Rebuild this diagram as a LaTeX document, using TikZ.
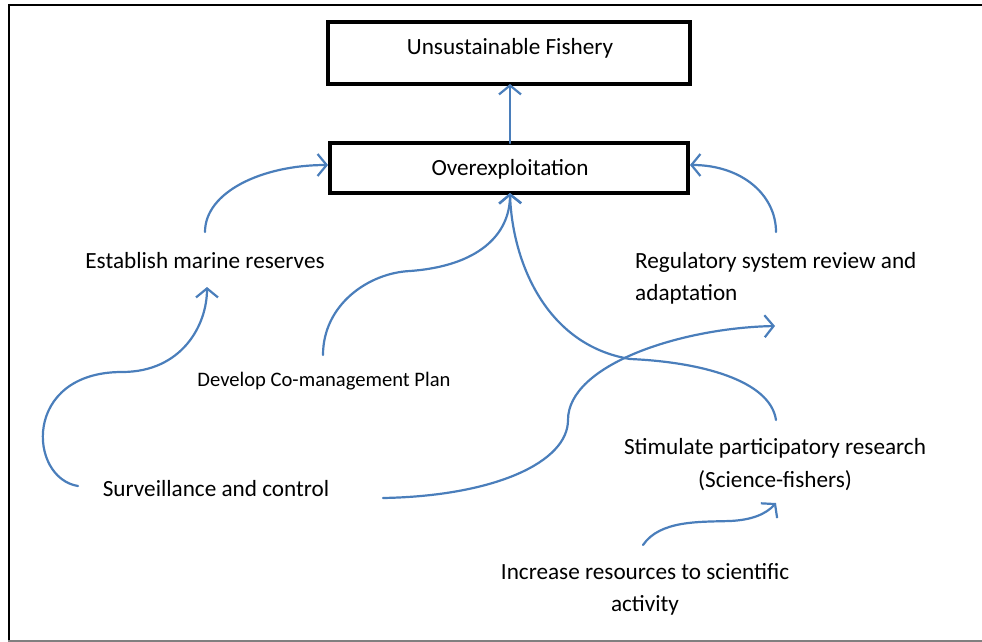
\documentclass[tikz,border=0pt]{standalone}
\usepackage{fontspec}
\setmainfont{Carlito}
\usetikzlibrary{arrows.meta}
\definecolor{flow}{RGB}{74,126,187}
\definecolor{framegray}{RGB}{128,128,128}
\begin{document}
\begin{tikzpicture}[x=1pt,y=-1pt,
  box/.style={draw=black,line width=4pt,minimum width=358pt,minimum height=58pt,inner sep=0pt},
  lbl/.style={inner sep=0pt,font=\fontsize{23.2}{32.5}\selectfont},
  small/.style={inner sep=0pt,font=\fontsize{20.6}{28}\selectfont},
  link/.style={draw=flow,line width=2.2pt,line cap=round},
  tip/.style={-{Straight Barb[length=9pt,width=22pt,line width=2.2pt]}}
]
\useasboundingbox (0,0) rectangle (982,642);
% page frame (open on the right)
\draw[black,line width=2.5pt] (8,5) -- (990,5);
\draw[black,line width=2pt] (9,4) -- (9,641);
\draw[framegray,line width=2pt] (8,641) -- (990,641);

% outcome boxes
\draw[line width=4pt] (328,22) rectangle (690,84);
\node[lbl] (fish) at (510,48.5) {Unsustainable Fishery};
\coordinate (fishS) at (510,84);
\node[box,minimum height=50pt] (over) at (509,168) {};
\node[lbl] at (510,169) {Overexploitation};

% measures
\node[lbl] (reserves) at (205,260.5) {Establish marine reserves};
\node[lbl,align=left,anchor=west] (regul) at (635,278.5) {Regulatory system review and\\adaptation};
\node[small] (comgmt) at (324,381.5) {Develop Co-management Plan};
\node[lbl] (surv) at (216,488.5) {Surveillance and control};
\node[lbl,align=center] (stim) at (775,464.5) {Stimulate participatory research\\(Science-fishers)};
\node[lbl,align=center] (incr) at (645,589.5) {Increase resources to scientific\\activity};

% end points of the connectors
\coordinate (resTop) at (205,232);
\coordinate (resBot) at (207,287);
\coordinate (regTop) at (776,232);
\coordinate (regEnd) at (775,326);
\coordinate (cmTop) at (323,355);
\coordinate (survL) at (78,486);
\coordinate (survR) at (383,498);
\coordinate (stimTop) at (776,420);
\coordinate (stimBot) at (776,503);
\coordinate (incrTop) at (643,545);
\coordinate (overW) at (328,165);
\coordinate (overE) at (690,165);
\coordinate (overS) at (510,193);
\coordinate (overN) at (510,143);

% connectors
\draw[link,tip] (overN) -- (fishS);
\draw[link,tip] (resTop) .. controls (205,192) and (262,165) .. (overW);
\draw[link,tip] (regTop) .. controls (776,195) and (742,165) .. (overE);
\draw[link,tip] (cmTop) .. controls (323,305) and (368,273) .. (410,271)
  .. controls (478,266) and (510,235) .. (overS);
\draw[link,tip] (stimTop) .. controls (770,380) and (700,362) .. (630,359)
  .. controls (545,345) and (512,260) .. (overS);
\draw[link,tip] (survL) .. controls (28,478) and (22,372) .. (122,372)
  .. controls (182,372) and (207,325) .. (resBot);
\draw[link,tip] (survR) .. controls (495,496) and (568,462) .. (568,420)
  .. controls (568,365) and (680,328) .. (regEnd);
\draw[link,tip] (incrTop) .. controls (660,520) and (700,522) .. (730,521)
  .. controls (752,520) and (766,514) .. (stimBot);
\end{tikzpicture}
\end{document}
